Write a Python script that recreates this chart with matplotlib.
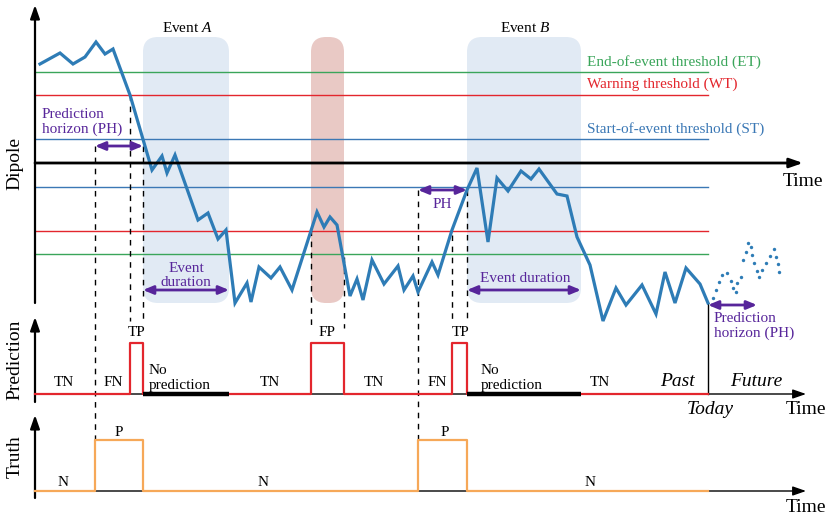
import matplotlib
matplotlib.use("Agg")
import matplotlib.pyplot as plt
from matplotlib.patches import FancyBboxPatch

plt.rcParams['font.family'] = ['Liberation Serif', 'DejaVu Serif']
plt.rcParams['mathtext.fontset'] = 'custom'
plt.rcParams['mathtext.rm'] = 'Liberation Serif'
plt.rcParams['mathtext.it'] = 'Liberation Serif:italic'

# ---------------- data ----------------
# dipole series (time in chart units, value relative to zero line)
dipole_t = [40, 60, 73, 85, 96, 105, 113, 130, 152, 162, 167, 175, 198, 208, 218, 226,
            235, 247, 251, 259, 271, 280, 292, 317, 324, 330, 337, 350, 357, 363, 372,
            384, 398, 404, 413, 418, 432, 438, 452, 467, 477, 488, 497, 508, 521, 531,
            539, 557, 567, 577, 590, 603, 616, 626, 642, 656, 665, 675, 686, 700, 708]
dipole_v = [99, 110, 99, 106, 121, 109, 114, 68, -7, 7, -10, 8, -57, -50, -76, -67,
            -140, -120, -139, -104, -115, -104, -127, -49, -64, -54, -62, -133, -116, -137, -97,
            -121, -103, -127, -113, -129, -99, -112, -67, -27, -5, -79, -15, -28, -8, -16,
            -6, -31, -33, -74, -102, -158, -125, -142, -122, -151, -109, -140, -105, -121, -140]
future_t = [713, 716, 719, 722, 727, 731, 733, 736, 737, 741, 743, 746, 748, 751, 752,
            754, 757, 759, 762, 766, 770, 774, 776, 778, 779]
future_v = [-135, -127, -119, -112, -110, -118, -125, -129, -120, -114, -97, -89, -80,
            -84, -92, -100, -108, -114, -107, -100, -93, -86, -94, -101, -109]

thr_et, thr_wt, thr_st = 91, 68, 24
today = 708

event_a = (143, 229)
event_b = (467, 581)
false_pos = (311, 344)
pred_on = [(130, 143), (311, 344), (452, 467)]
no_pred = [(143, 229), (467, 581)]
truth_on = [(95, 143), (418, 467)]
ph_windows = [(95, 143), (418, 467)]

pred_labels = [(64, 'TN'), (113, 'FN'), (270, 'TN'), (374, 'TN'), (437, 'FN'), (600, 'TN')]
pred_pulse_labels = [(137, 'TP'), (327, 'FP'), (461, 'TP')]
truth_labels_n = [(63, 'N'), (263, 'N'), (590, 'N')]
truth_labels_p = [(119, 'P'), (445, 'P')]

# ---------------- layout helpers ----------------
Y0_TOP = 163       # zero line of dipole panel
PRED_BASE, PRED_HIGH = 394, 343
TRUTH_BASE, TRUTH_HIGH = 491, 440
X0 = 35

def ytop(v):
    return Y0_TOP - v

C_BLUE = '#2e7cb6'
C_ST = '#3b78b5'
C_GREEN = '#3aa55a'
C_RED = '#e3262d'
C_ORANGE = '#f6a858'
C_PURPLE = '#57259a'
C_BOXB = '#e1eaf4'
C_BOXR = '#e9c9c5'

fig = plt.figure(figsize=(8.3, 5.25), dpi=100)
ax = fig.add_axes([0, 0, 1, 1])
ax.set_xlim(0, 830)
ax.set_ylim(525, 0)
ax.axis('off')

# shaded event boxes
for (a, b), col in [(event_a, C_BOXB), (event_b, C_BOXB), (false_pos, C_BOXR)]:
    ax.add_patch(FancyBboxPatch((a, 37), b - a, 266,
                                boxstyle="round,pad=0,rounding_size=15",
                                fc=col, ec='none', zorder=0))

# thresholds
for v, col in [(thr_et, C_GREEN), (thr_wt, C_RED), (thr_st, C_ST),
               (-thr_st, C_ST), (-thr_wt, C_RED), (-thr_et, C_GREEN)]:
    ax.plot([X0, today], [ytop(v), ytop(v)], color=col, lw=1.0, zorder=1)

ax.text(587, 62, 'End-of-event threshold (ET)', color=C_GREEN, fontsize=11, va='center')
ax.text(587, 84, 'Warning threshold (WT)', color=C_RED, fontsize=11, va='center')
ax.text(587, 129, 'Start-of-event threshold (ST)', color=C_ST, fontsize=11, va='center')

# axes arrows
def arrow(x0, y0, x1, y1, lw=1.6):
    ax.annotate('', xy=(x1, y1), xytext=(x0, y0),
                arrowprops=dict(arrowstyle='-|>,head_length=0.8,head_width=0.28',
                                color='black', lw=lw, shrinkA=0, shrinkB=0), zorder=5)

arrow(X0, 303, X0, 5)
arrow(X0, Y0_TOP, 803, Y0_TOP, lw=2.0)
arrow(X0, 402, X0, 317)
arrow(X0, PRED_BASE, 806, PRED_BASE, lw=1.0)
arrow(X0, 498, X0, 415)
arrow(X0, TRUTH_BASE, 806, TRUTH_BASE, lw=1.0)

# dipole series
ax.plot(dipole_t, [ytop(v) for v in dipole_v], color=C_BLUE, lw=2.3, zorder=4,
        solid_joinstyle='miter')
ax.scatter(future_t, [ytop(v) for v in future_v], s=6, color=C_BLUE, zorder=4,
           linewidths=0)

# today line
ax.plot([today, today], [303, PRED_BASE], color='black', lw=1.0, zorder=3)

# dashed guide lines
dash = dict(color='black', lw=1.0, ls=(0, (4, 4)), zorder=2)
ax.plot([95, 95], [146, TRUTH_HIGH], **dash)
ax.plot([130, 130], [95, 321], **dash)
ax.plot([143, 143], [146, 321], **dash)
ax.plot([311, 311], [230, 328], **dash)
ax.plot([344, 344], [257, 328], **dash)
ax.plot([418, 418], [190, TRUTH_HIGH], **dash)
ax.plot([452, 452], [235, 321], **dash)
ax.plot([467, 467], [190, 321], **dash)

# purple double arrows
def darrow(x0, x1, y):
    ax.annotate('', xy=(x1, y), xytext=(x0, y),
                arrowprops=dict(arrowstyle='<|-|>,head_length=0.6,head_width=0.25',
                                color=C_PURPLE, lw=2.0, shrinkA=0, shrinkB=0), zorder=6)

darrow(ph_windows[0][0], ph_windows[0][1], 146)
darrow(ph_windows[1][0], ph_windows[1][1], 190)
darrow(event_a[0], event_a[1], 290)
darrow(event_b[0], event_b[1], 290)
darrow(today, today + 49, 305)

ax.text(42, 115, 'Prediction', color=C_PURPLE, fontsize=11, va='center')
ax.text(42, 129, 'horizon (PH)', color=C_PURPLE, fontsize=11, va='center')
ax.text(442, 205, 'PH', color=C_PURPLE, fontsize=11, ha='center', va='center')
ax.text(186, 269, 'Event', color=C_PURPLE, fontsize=11, ha='center', va='center')
ax.text(186, 283, 'duration', color=C_PURPLE, fontsize=11, ha='center', va='center')
ax.text(525, 278, 'Event duration', color=C_PURPLE, fontsize=11, ha='center', va='center')
ax.text(714, 318, 'Prediction', color=C_PURPLE, fontsize=11, va='center')
ax.text(714, 333, 'horizon (PH)', color=C_PURPLE, fontsize=11, va='center')

ax.text(187, 28, 'Event $\\mathit{A}$', fontsize=11, ha='center', va='center')
ax.text(525, 28, 'Event $\\mathit{B}$', fontsize=11, ha='center', va='center')

ax.text(783, 182, 'Time', fontsize=14, va='center')
ax.text(15, 163, 'Dipole', fontsize=14, rotation=90, ha='center', va='center')

# prediction signal
px, py = [X0], [PRED_BASE]
for a, b in pred_on:
    px += [a, a, b, b]
    py += [PRED_BASE, PRED_HIGH, PRED_HIGH, PRED_BASE]
px.append(today)
py.append(PRED_BASE)
ax.plot(px, py, color=C_RED, lw=1.6, zorder=6)
for a, b in no_pred:
    ax.plot([a, b], [PRED_BASE, PRED_BASE], color='black', lw=3.2, zorder=7,
            solid_capstyle='butt')

for x, s in pred_labels:
    ax.text(x, 383, s, fontsize=11, ha='center', va='center')
for x, s in pred_pulse_labels:
    ax.text(x, 333, s, fontsize=11, ha='center', va='center')
for x in [149, 481]:
    ax.text(x, 371, 'No', fontsize=11, va='center')
    ax.text(x, 385, 'prediction', fontsize=11, va='center')
ax.text(677, 382, 'Past', fontsize=14, style='italic', ha='center', va='center')
ax.text(756, 382, 'Future', fontsize=14, style='italic', ha='center', va='center')
ax.text(710, 410, 'Today', fontsize=14, style='italic', ha='center', va='center')
ax.text(806, 410, 'Time', fontsize=14, ha='center', va='center')
ax.text(15, 360, 'Prediction', fontsize=14, rotation=90, ha='center', va='center')

# truth signal
tx, ty = [X0], [TRUTH_BASE]
for a, b in truth_on:
    tx += [a, a, b, b]
    ty += [TRUTH_BASE, TRUTH_HIGH, TRUTH_HIGH, TRUTH_BASE]
tx.append(today)
ty.append(TRUTH_BASE)
ax.plot(tx, ty, color=C_ORANGE, lw=1.6, zorder=6)
for x, s in truth_labels_n:
    ax.text(x, 482, s, fontsize=11, ha='center', va='center')
for x, s in truth_labels_p:
    ax.text(x, 433, s, fontsize=11, ha='center', va='center')
ax.text(806, 508, 'Time', fontsize=14, ha='center', va='center')
ax.text(15, 457, 'Truth', fontsize=14, rotation=90, ha='center', va='center')

fig.savefig('out.png', dpi=100)
